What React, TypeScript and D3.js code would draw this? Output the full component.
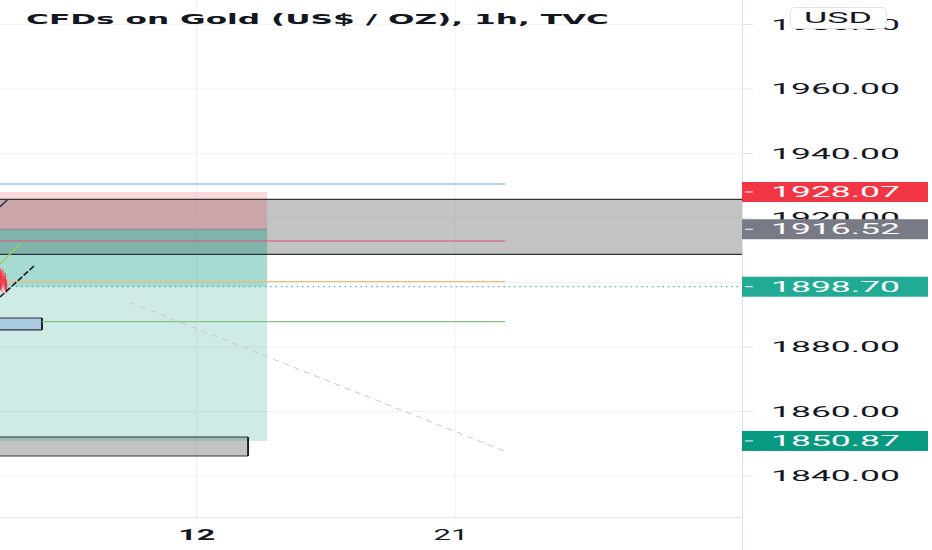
import React from "react";
import * as d3 from "d3";

// ---- data ----
const timeDomain = ["2023-06-05T03:30:00Z", "2023-06-30T23:50:00Z"];
const priceDomain = [1827.29, 1987.6];

const priceTicks = [1840, 1860, 1880, 1900, 1920, 1940, 1960, 1980];
const hiddenPriceTicks = [1900];
const timeTickDates = ["2023-06-12T00:00:00Z", "2023-06-21T00:00:00Z"];
const timeTickLabels = ["12", "21"];
const timeTickBold = [true, false];

const title = "CFDs on Gold (US$ / OZ), 1h, TVC";
const currency = "USD";

// position tool (short)
const stopPrice = 1928.07;
const entryPrice = 1916.52;
const targetPrice = 1850.87;
const currentPrice = 1898.7;
const positionStart = "2023-06-01T00:00:00Z";
const positionEnd = "2023-06-14T10:48:00Z";

// horizontal level lines
const levelPrices = [1930.55, 1912.87, 1900.3, 1887.9];
const levelStarts = ["2023-06-01T00:00:00Z", "2023-06-01T00:00:00Z", "2023-06-01T00:00:00Z", "2023-06-06T14:38:00Z"];
const levelEnds = ["2023-06-22T17:50:00Z", "2023-06-22T17:50:00Z", "2023-06-22T17:50:00Z", "2023-06-22T17:50:00Z"];

// rectangles (gray zone, blue box, gray bottom box)
const rectTop = [1925.8, 1889.0, 1852.1];
const rectBottom = [1908.75, 1885.3, 1846.2];
const rectStart = ["2023-06-01T00:00:00Z", "2023-06-01T00:00:00Z", "2023-06-01T00:00:00Z"];
const rectEnd = ["2023-07-05T00:00:00Z", "2023-06-06T14:38:00Z", "2023-06-13T18:53:00Z"];
const rectOnTop = [false, true, false];

// trend lines
const trendStartTimes = ["2023-06-05T03:30:00Z", "2023-06-05T03:30:00Z", "2023-06-05T03:30:00Z", "2023-06-09T16:11:00Z"];
const trendStartPrices = [1923.52, 1905.7, 1895.5, 1893.9];
const trendEndTimes = ["2023-06-05T09:36:00Z", "2023-06-05T20:48:00Z", "2023-06-06T08:46:00Z", "2023-06-22T19:22:00Z"];
const trendEndPrices = [1925.6, 1912.2, 1905.4, 1847.4];

// candles
const candleTimes = ["2023-06-05T04:00:00Z", "2023-06-05T05:00:00Z", "2023-06-05T06:00:00Z", "2023-06-05T07:00:00Z", "2023-06-05T08:00:00Z", "2023-06-05T09:00:00Z"];
const candleOpen = [1903.5, 1903.0, 1902.0, 1901.5, 1902.0, 1900.0];
const candleHigh = [1904.5, 1903.8, 1904.0, 1903.0, 1903.0, 1901.0];
const candleLow = [1897.5, 1897.0, 1899.0, 1898.0, 1897.0, 1896.7];
const candleClose = [1898.0, 1898.5, 1900.0, 1899.0, 1897.5, 1897.2];

// price labels on the axis
const axisLabelPrices = [stopPrice, entryPrice, currentPrice, targetPrice];

// ---- styles ----
const W = 932;
const H = 550;
const plotW = 742;
const plotH = 517;
const levelColors = ["#5aaee8", "#e0517a", "#f5bb78", "#86c486"];
const rectFills = ["rgba(128,128,128,0.47)", "#aacbe2", "rgba(128,128,128,0.47)"];
const trendColors = ["#2a2e39", "#9ccc65", "#131722", "#c8c8c8"];
const trendDash = ["", "", "6 2", "6 5"];
const trendWidth = [1.5, 1.5, 1.6, 1];
const axisLabelColors = ["#f23645", "#787b86", "#22ab94", "#089981"];
const axisFont = "Roboto, 'Noto Sans', sans-serif";

export default function App() {
  const x = d3
    .scaleTime()
    .domain(timeDomain.map((d) => new Date(d)))
    .range([0, plotW]);
  const y = d3.scaleLinear().domain(priceDomain).range([plotH, 0]);
  const X = (s: string) => x(new Date(s));
  const fmt = d3.format(".2f");

  const tickLabelLen = 129;

  const rectFill = (i: number) => (
    <rect
      key={"rf" + i}
      x={X(rectStart[i])}
      y={y(rectTop[i])}
      width={X(rectEnd[i]) - X(rectStart[i])}
      height={y(rectBottom[i]) - y(rectTop[i])}
      fill={rectFills[i]}
    />
  );

  return (
    <svg
      width={W}
      height={H}
      style={{ position: "absolute", left: 0, top: 0, display: "block" }}
    >
      <defs>
        <clipPath id="plotClip">
          <rect x={0} y={0} width={plotW} height={plotH} />
        </clipPath>
      </defs>
      <rect x={0} y={0} width={W} height={H} fill="#ffffff" />

      {/* grid */}
      {priceTicks.map((p) => (
        <line key={"gh" + p} x1={0} x2={plotW} y1={y(p)} y2={y(p)} stroke="#f0f3fa" strokeWidth={1} />
      ))}
      {timeTickDates.map((d) => (
        <line key={"gv" + d} x1={X(d)} x2={X(d)} y1={0} y2={plotH + 5} stroke="#eceff5" strokeWidth={1} />
      ))}

      <g clipPath="url(#plotClip)">
        {/* rectangle fills below the position tool */}
        {rectTop.map((t, i) => (rectOnTop[i] ? null : rectFill(i)))}

        {/* position tool */}
        <rect
          x={X(positionStart)}
          y={y(stopPrice)}
          width={X(positionEnd) - X(positionStart)}
          height={y(entryPrice) - y(stopPrice)}
          fill="rgba(242,54,69,0.2)"
        />
        <rect
          x={X(positionStart)}
          y={y(entryPrice)}
          width={X(positionEnd) - X(positionStart)}
          height={y(targetPrice) - y(entryPrice)}
          fill="rgba(8,153,129,0.2)"
        />
        <rect
          x={X(positionStart)}
          y={y(entryPrice)}
          width={X(positionEnd) - X(positionStart)}
          height={y(currentPrice) - y(entryPrice)}
          fill="rgba(8,153,129,0.2)"
        />
        <line
          x1={X(positionStart)}
          x2={X(positionEnd)}
          y1={y(entryPrice)}
          y2={y(entryPrice)}
          stroke="#8a8d96"
          strokeWidth={1}
        />

        {/* rectangle fills above the position tool */}
        {rectTop.map((t, i) => (rectOnTop[i] ? rectFill(i) : null))}

        {/* rectangle borders */}
        {rectTop.map((t, i) => {
          const x0 = X(rectStart[i]);
          const x1 = X(rectEnd[i]);
          const y0 = y(t);
          const y1 = y(rectBottom[i]);
          return (
            <g key={"rb" + i}>
              <line x1={x0} x2={x1} y1={y0} y2={y0} stroke="#2f323c" strokeWidth={1.2} />
              <line x1={x0} x2={x1} y1={y1} y2={y1} stroke="#2f323c" strokeWidth={1.2} />
              <line x1={x1} x2={x1} y1={y0} y2={y1} stroke="#1e222d" strokeWidth={2} />
            </g>
          );
        })}

        {/* level lines */}
        {levelPrices.map((p, i) => (
          <line
            key={"lv" + i}
            x1={X(levelStarts[i])}
            x2={X(levelEnds[i])}
            y1={y(p)}
            y2={y(p)}
            stroke={levelColors[i]}
            strokeWidth={1.2}
          />
        ))}

        {/* current price dotted line */}
        <line
          x1={0}
          x2={plotW}
          y1={y(currentPrice)}
          y2={y(currentPrice)}
          stroke="#22ab94"
          strokeWidth={1}
          strokeDasharray="1.5 3.8"
        />

        {/* candles */}
        {candleTimes.map((t, i) => {
          const cx = X(t);
          const up = candleClose[i] >= candleOpen[i];
          const col = up ? "#089981" : "#f23645";
          return (
            <g key={"c" + i}>
              <line x1={cx} x2={cx} y1={y(candleHigh[i])} y2={y(candleLow[i])} stroke={col} strokeWidth={0.8} />
              <rect
                x={cx - 0.6}
                width={1.2}
                y={y(Math.max(candleOpen[i], candleClose[i]))}
                height={Math.abs(y(candleOpen[i]) - y(candleClose[i]))}
                fill={col}
              />
            </g>
          );
        })}

        {/* trend lines */}
        {trendStartTimes.map((t, i) => (
          <line
            key={"tr" + i}
            x1={X(t)}
            y1={y(trendStartPrices[i])}
            x2={X(trendEndTimes[i])}
            y2={y(trendEndPrices[i])}
            stroke={trendColors[i]}
            strokeWidth={trendWidth[i]}
            strokeDasharray={trendDash[i] || undefined}
          />
        ))}
      </g>

      {/* axes */}
      <line x1={plotW + 0.5} x2={plotW + 0.5} y1={0} y2={H} stroke="#e0e3eb" strokeWidth={1} />
      <line x1={0} x2={plotW} y1={plotH + 0.5} y2={plotH + 0.5} stroke="#e0e3eb" strokeWidth={1} />

      {priceTicks.map((p) => (
        <g key={"pt" + p}>
          <line x1={plotW + 1} x2={plotW + 11} y1={y(p)} y2={y(p)} stroke="#e0e3eb" strokeWidth={1} />
          {hiddenPriceTicks.indexOf(p) < 0 && (
            <text
              x={771}
              y={y(p) + 5}
              fontFamily={axisFont}
              fontSize={14}
              fill="#131722"
              textLength={tickLabelLen}
              lengthAdjust="spacingAndGlyphs"
            >
              {fmt(p)}
            </text>
          )}
        </g>
      ))}

      {timeTickDates.map((d, i) => {
        const cx = X(d);
        const len = timeTickBold[i] ? 37 : 35;
        return (
          <text
            key={"tt" + d}
            x={cx - len / 2 - (timeTickBold[i] ? 0 : 4)}
            y={540}
            fontFamily={axisFont}
            fontSize={14}
            fontWeight={timeTickBold[i] ? 700 : 400}
            fill="#131722"
            textLength={len}
            lengthAdjust="spacingAndGlyphs"
          >
            {timeTickLabels[i]}
          </text>
        );
      })}

      {/* price labels */}
      {axisLabelPrices.map((p, i) => (
        <g key={"al" + i}>
          <rect x={plotW} y={y(p) - 10} width={186} height={20} fill={axisLabelColors[i]} />
          <line x1={plotW + 3} x2={plotW + 11} y1={y(p)} y2={y(p)} stroke="#ffffff" strokeWidth={1} />
          <text
            x={771}
            y={y(p) + 5}
            fontFamily={axisFont}
            fontSize={14}
            fill="#ffffff"
            textLength={tickLabelLen}
            lengthAdjust="spacingAndGlyphs"
          >
            {fmt(p)}
          </text>
        </g>
      ))}

      {/* currency button */}
      <rect x={790.5} y={7.5} width={96} height={21} rx={4} fill="#ffffff" stroke="#e0e3eb" strokeWidth={1} />
      <text
        x={804}
        y={23}
        fontFamily={axisFont}
        fontSize={15}
        fill="#131722"
        textLength={68}
        lengthAdjust="spacingAndGlyphs"
      >
        {currency}
      </text>

      {/* title */}
      <text
        x={26}
        y={24}
        fontFamily="'DejaVu Sans', Verdana, sans-serif"
        fontSize={14}
        fontWeight={700}
        fill="#131722"
        textLength={583}
        lengthAdjust="spacingAndGlyphs"
      >
        {title}
      </text>
    </svg>
  );
}
